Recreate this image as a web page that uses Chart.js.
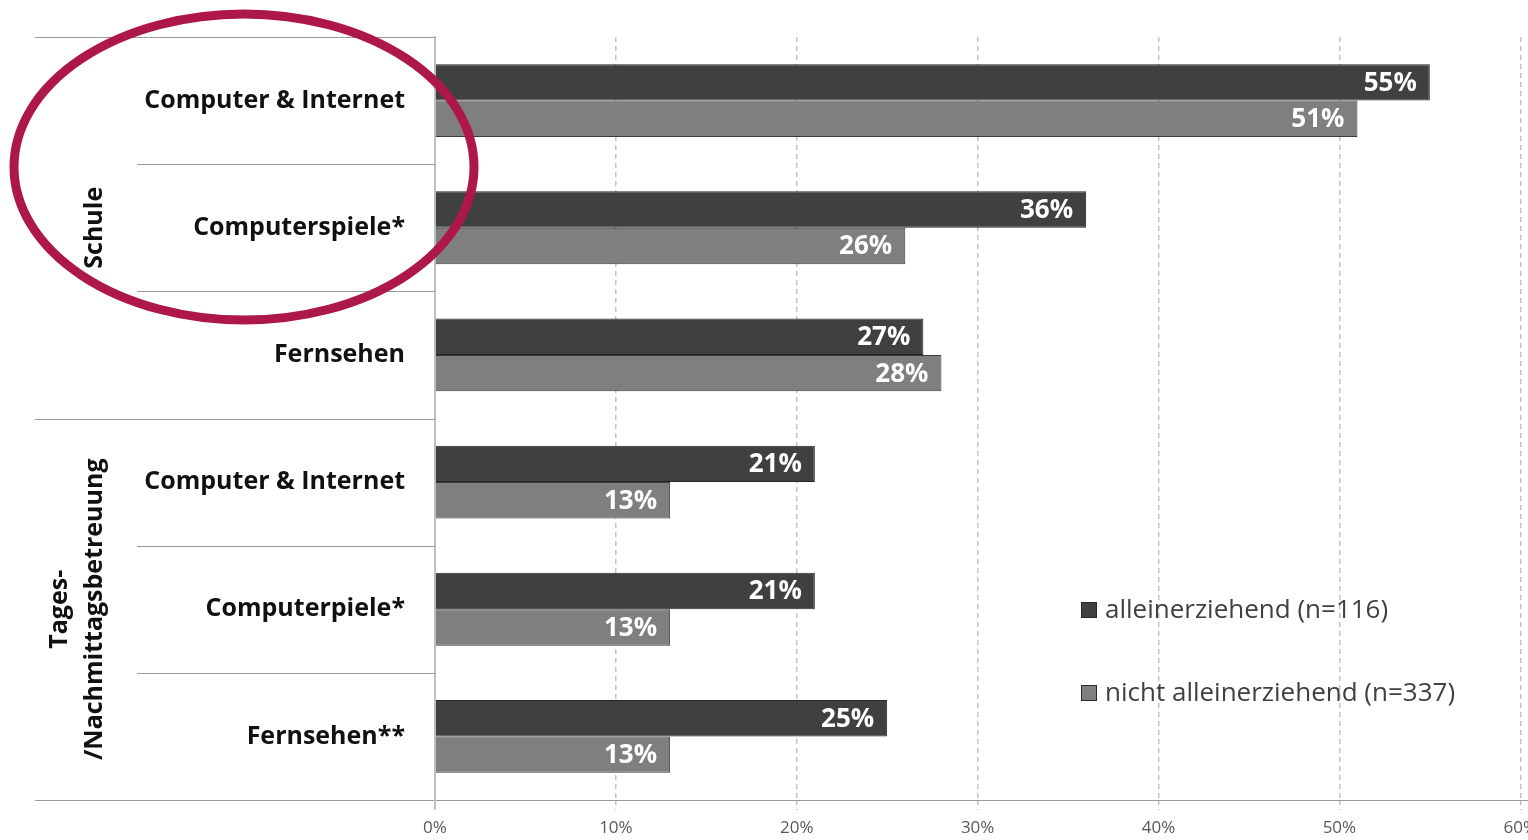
<!DOCTYPE html>
<html>
<head>
<meta charset="utf-8">
<script src="https://cdn.jsdelivr.net/npm/chart.js@4.4.1/dist/chart.umd.min.js"></script>
<style>
  html, body { margin: 0; padding: 0; background: #fff; overflow: hidden; }
  #wrap { width: 1545px; height: 840px; }
</style>
</head>
<body>
<div id="wrap"><canvas id="usage" width="1545" height="840"></canvas></div>
<script>
const categories = ['Computer & Internet', 'Computerspiele*', 'Fernsehen', 'Computer & Internet', 'Computerpiele*', 'Fernsehen**'];
const groupLabels = [['Schule'], ['Tages-', '/Nachmittagsbetreuung']];
const groupSizes = [3, 3];
const seriesNames = ['alleinerziehend (n=116)', 'nicht alleinerziehend (n=337)'];
const alleinerziehend = [55, 36, 27, 21, 21, 25];
const nichtAlleinerziehend = [51, 26, 28, 13, 13, 13];
const xTickValues = [0, 10, 20, 30, 40, 50, 60];

const FONT = '"Open Sans"';
const darkFill = '#404040';
const lightFill = '#7f7f7f';

// value labels inside the bar ends
const barLabels = {
  id: 'barLabels',
  afterDatasetsDraw(chart) {
    const ctx = chart.ctx;
    ctx.save();
    ctx.font = `bold 26px ${FONT}`;
    ctx.fillStyle = '#fff';
    ctx.textAlign = 'right';
    ctx.textBaseline = 'middle';
    chart.data.datasets.forEach((ds, di) => {
      chart.getDatasetMeta(di).data.forEach((bar, i) => {
        ctx.fillText(ds.data[i] + '%', bar.x - 13, bar.y + 1);
      });
    });
    ctx.restore();
  }
};

// row separators, group titles, bottom rule, legend and the highlight ring
const decorations = {
  id: 'decorations',
  afterDraw(chart) {
    const ctx = chart.ctx;
    const y = chart.scales.y;
    const area = chart.chartArea;
    const step = (y.getPixelForValue(1) - y.getPixelForValue(0));
    const edge = i => y.getPixelForValue(i) - step / 2;
    ctx.save();

    ctx.strokeStyle = '#9a9a9a';
    ctx.lineWidth = 1;
    let idx = 0;
    const groupBounds = [0];
    groupSizes.forEach(n => { idx += n; groupBounds.push(idx); });
    for (let i = 0; i <= categories.length; i++) {
      const py = Math.round(edge(i)) + 0.5;
      const isGroup = groupBounds.includes(i);
      ctx.beginPath();
      ctx.moveTo(isGroup ? 35 : 137, py);
      ctx.lineTo(isGroup && i === categories.length ? chart.width : area.left, py);
      ctx.stroke();
    }

    // axis line runs a little past the bottom rule
    ctx.strokeStyle = '#c0c0c0';
    ctx.lineWidth = 2;
    ctx.beginPath();
    ctx.moveTo(area.left, area.bottom);
    ctx.lineTo(area.left, area.bottom + 9);
    ctx.stroke();

    // group titles, rotated
    ctx.fillStyle = '#111';
    ctx.font = `bold 25px ${FONT}`;
    ctx.textAlign = 'center';
    ctx.textBaseline = 'middle';
    groupLabels.forEach((lines, g) => {
      const cy = (edge(groupBounds[g]) + edge(groupBounds[g + 1])) / 2;
      ctx.save();
      ctx.translate(95, cy);
      ctx.rotate(-Math.PI / 2);
      lines.forEach((line, k) => {
        const off = (k - (lines.length - 1)) * 35;
        ctx.fillText(line, 0, off);
      });
      ctx.restore();
    });

    // legend
    ctx.font = `26px ${FONT}`;
    ctx.textAlign = 'left';
    const legendY = [610, 693];
    chart.data.datasets.forEach((ds, i) => {
      ctx.fillStyle = ds.backgroundColor;
      ctx.fillRect(1081, legendY[i] - 8, 16, 16);
      ctx.strokeStyle = '#2a2a2a';
      ctx.lineWidth = 1;
      ctx.strokeRect(1081.5, legendY[i] - 7.5, 15, 15);
      ctx.fillStyle = '#404040';
      ctx.fillText(ds.label, 1105, legendY[i] + 1);
    });

    // highlight ring
    ctx.strokeStyle = '#ad1749';
    ctx.lineWidth = 9;
    ctx.beginPath();
    ctx.ellipse(244, 167, 230, 153, 0, 0, Math.PI * 2);
    ctx.stroke();
    ctx.restore();
  }
};

new Chart(document.getElementById('usage'), {
  type: 'bar',
  data: {
    labels: categories,
    datasets: [
      { label: seriesNames[0], data: alleinerziehend, backgroundColor: darkFill, borderColor: '#262626', borderWidth: 1 },
      { label: seriesNames[1], data: nichtAlleinerziehend, backgroundColor: lightFill, borderColor: '#3a3a3a', borderWidth: 1 }
    ]
  },
  options: {
    indexAxis: 'y',
    responsive: false,
    animation: false,
    devicePixelRatio: 1,
    layout: { padding: { left: 35, top: 24, right: 0, bottom: 0 } },
    datasets: { bar: { categoryPercentage: 0.573, barPercentage: 1 } },
    plugins: { legend: { display: false }, tooltip: { enabled: false } },
    scales: {
      x: {
        min: 0,
        max: 60,
        afterBuildTicks: s => { s.ticks = xTickValues.map(v => ({ value: v })); },
        afterFit: s => { s.height = 40; },
        ticks: {
          callback: v => v + '%',
          color: '#595959',
          font: { family: 'Open Sans', size: 17 },
          padding: 8,
          maxRotation: 0
        },
        grid: {
          color: '#c4c4c4',
          lineWidth: 1.5,
          tickLength: 10,
          tickColor: '#c4c4c4',
          tickBorderDash: [5, 4]
        },
        border: { display: false, dash: [5, 4] }
      },
      y: {
        afterFit: s => { s.width = 400; },
        ticks: {
          color: '#111',
          font: { family: 'Open Sans', size: 25, weight: 'bold' },
          padding: 22
        },
        grid: { display: false },
        border: { display: true, color: '#c0c0c0', width: 2 }
      }
    }
  },
  plugins: [barLabels, decorations]
});
</script>
</body>
</html>
